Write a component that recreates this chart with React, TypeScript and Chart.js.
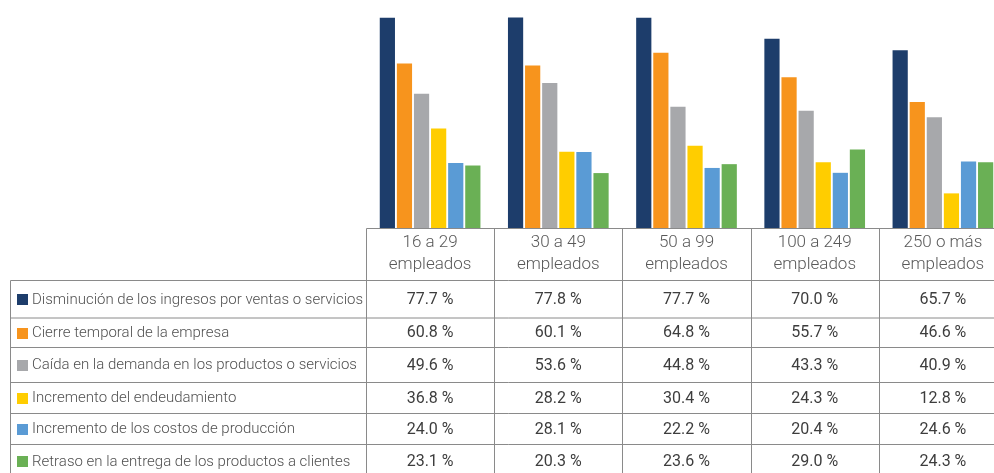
import React, { useEffect, useRef } from "react";
import { Chart, registerables } from "chart.js";

Chart.register(...registerables);

const categories: string[][] = [
  ["16 a 29", "empleados"],
  ["30 a 49", "empleados"],
  ["50 a 99", "empleados"],
  ["100 a 249", "empleados"],
  ["250 o más", "empleados"],
];

const seriesNames = [
  "Disminución de los ingresos por ventas o servicios",
  "Cierre temporal de la empresa",
  "Caída en la demanda en los productos o servicios",
  "Incremento del endeudamiento",
  "Incremento de los costos de producción",
  "Retraso en la entrega de los productos a clientes",
];

const seriesColors = ["#1d3d6b", "#f7941d", "#a7a8ab", "#ffcd00", "#5a9bd5", "#6ab055"];

const disminucion = [77.7, 77.8, 77.7, 70.0, 65.7];
const cierre = [60.8, 60.1, 64.8, 55.7, 46.6];
const caida = [49.6, 53.6, 44.8, 43.3, 40.9];
const endeudamiento = [36.8, 28.2, 30.4, 24.3, 12.8];
const costos = [24.0, 28.1, 22.2, 20.4, 24.6];
const retraso = [23.1, 20.3, 23.6, 29.0, 24.3];

const seriesValues = [disminucion, cierre, caida, endeudamiento, costos, retraso];

// table row boundaries (layout)
const ROW_LINES = [280.5, 318, 347.5, 382.5, 413.5, 444.5, 480];
const TABLE_TOP = 228.5;
const TABLE_LEFT = 10.5;
const LINE_COLOR = "#8a8a8a";

const tablePlugin = {
  id: "dataTable",
  afterDraw(chart: any) {
    const ctx = chart.ctx as CanvasRenderingContext2D;
    const xs = chart.scales.x;
    const area = chart.chartArea;
    const n = categories.length;
    const catW = (area.right - area.left) / n;
    const colLeft = (i: number) => xs.getPixelForValue(i) - catW / 2;
    const right = area.right;
    const bottom = ROW_LINES[ROW_LINES.length - 1];

    ctx.save();
    ctx.strokeStyle = LINE_COLOR;
    ctx.lineWidth = 1;
    ctx.beginPath();
    ctx.moveTo(Math.round(colLeft(0)) + 0.5, TABLE_TOP);
    ctx.lineTo(right, TABLE_TOP);
    ROW_LINES.forEach((y, i) => {
      if (i === ROW_LINES.length - 1) return;
      ctx.moveTo(TABLE_LEFT, y);
      ctx.lineTo(right, y);
    });
    ctx.moveTo(TABLE_LEFT, ROW_LINES[0]);
    ctx.lineTo(TABLE_LEFT, bottom);
    for (let i = 0; i <= n; i++) {
      const x = Math.round(colLeft(i)) + 0.5;
      ctx.moveTo(x, TABLE_TOP);
      ctx.lineTo(x, bottom);
    }
    ctx.stroke();

    // header
    ctx.textAlign = "center";
    ctx.textBaseline = "middle";
    ctx.fillStyle = "#595959";
    ctx.font = "300 17px Roboto";
    categories.forEach((lines, i) => {
      const cx = xs.getPixelForValue(i);
      ctx.fillText(lines[0], cx, 243);
      ctx.fillText(lines[1], cx, 265);
    });

    // rows
    seriesNames.forEach((name, r) => {
      const cy = (ROW_LINES[r] + Math.min(ROW_LINES[r + 1], 478)) / 2 + 0.5;
      ctx.fillStyle = seriesColors[r];
      ctx.fillRect(17, Math.round(cy - 5.5), 11, 11);
      ctx.textAlign = "left";
      ctx.fillStyle = "#505050";
      ctx.font = "300 15px Roboto";
      ctx.fillText(name, 32, cy);
      ctx.textAlign = "center";
      ctx.fillStyle = "#3d3d3d";
      ctx.font = "400 16px Roboto";
      seriesValues[r].forEach((v, i) => {
        ctx.fillText(v.toFixed(1) + " %", xs.getPixelForValue(i), cy);
      });
    });
    ctx.restore();
  },
};

export default function App() {
  const ref = useRef<HTMLCanvasElement>(null);
  useEffect(() => {
    if (!ref.current) return;
    const chart = new Chart(ref.current, {
      type: "bar",
      data: {
        labels: categories.map((c) => c.join(" ")),
        datasets: seriesNames.map((name, i) => ({
          label: name,
          data: seriesValues[i],
          backgroundColor: seriesColors[i],
          borderWidth: 0,
          categoryPercentage: 0.8,
          barPercentage: 0.89,
        })),
      },
      options: {
        animation: false,
        responsive: false,
        maintainAspectRatio: false,
        layout: { padding: { left: 366, right: 3, top: 17, bottom: 245 } },
        plugins: { legend: { display: false }, tooltip: { enabled: false } },
        scales: {
          x: { display: false },
          y: { display: false, min: 0, max: 78 },
        },
      },
      plugins: [tablePlugin],
    });
    return () => chart.destroy();
  }, []);
  return (
    <div
      style={{
        position: "fixed",
        left: 0,
        top: 0,
        width: 994,
        height: 473,
        overflow: "hidden",
        background: "#fff",
      }}
    >
      <canvas ref={ref} width={1010} height={473} style={{ display: "block" }} />
    </div>
  );
}
